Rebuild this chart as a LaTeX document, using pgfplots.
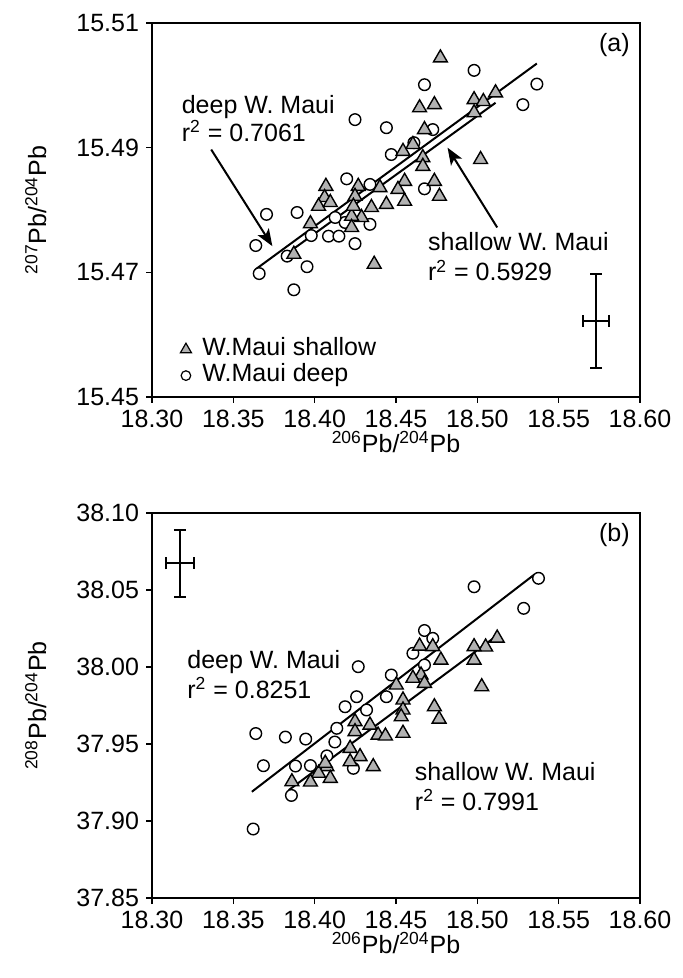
\documentclass[border=0pt]{standalone}
\usepackage{pgfplots}
\pgfplotsset{compat=1.18}
\usepackage{fontspec}
\setmainfont{Liberation Sans}
\usetikzlibrary{arrows.meta}

\pgfplotstableread{
x y
18.4248 15.4945
18.4441 15.4932
18.4726 15.4929
18.4610 15.4908
18.4471 15.4889
18.4197 15.4850
18.4340 15.4841
18.4675 15.4834
18.3892 15.4796
18.3704 15.4793
18.4187 15.4780
18.4085 15.4758
18.4149 15.4758
18.4248 15.4746
18.4340 15.4777
18.3979 15.4759
18.3638 15.4743
18.3831 15.4726
18.3953 15.4709
18.3659 15.4698
18.3872 15.4672
18.4980 15.5024
18.4675 15.5001
18.5366 15.5002
18.5280 15.4969
18.4126 15.4788
}\deepA

\pgfplotstableread{
x y
18.4773 15.5044
18.4980 15.4977
18.5037 15.4974
18.5112 15.4988
18.4980 15.4956
18.4645 15.4964
18.4736 15.4969
18.4675 15.4929
18.4543 15.4894
18.4604 15.4905
18.4665 15.4884
18.4665 15.4870
18.5020 15.4881
18.4736 15.4846
18.4767 15.4822
18.4553 15.4846
18.4512 15.4833
18.4553 15.4814
18.4441 15.4809
18.4401 15.4836
18.4268 15.4838
18.4069 15.4838
18.4061 15.4820
18.4024 15.4806
18.4096 15.4812
18.4248 15.4822
18.4349 15.4804
18.4288 15.4788
18.4227 15.4790
18.4227 15.4772
18.3974 15.4778
18.3872 15.4729
18.4366 15.4713
18.4238 15.4806
}\shallowA

\pgfplotstableread{
x y
18.5376 38.0576
18.4980 38.0521
18.5285 38.0381
18.4675 38.0237
18.4726 38.0186
18.4604 38.0089
18.4675 38.0013
18.4268 38.0002
18.4471 37.9948
18.4441 37.9807
18.4258 37.9807
18.4187 37.9742
18.4319 37.9721
18.4136 37.9602
18.3638 37.9568
18.3820 37.9545
18.3945 37.9532
18.4124 37.9513
18.4075 37.9423
18.3685 37.9359
18.3882 37.9357
18.3974 37.9360
18.4238 37.9342
18.3857 37.9166
18.3622 37.8948
}\deepB

\pgfplotstableread{
x y
18.5122 38.0188
18.5051 38.0130
18.4980 38.0132
18.4980 38.0045
18.5027 37.9872
18.4645 38.0136
18.4726 38.0132
18.4776 38.0045
18.4654 37.9948
18.4604 37.9927
18.4675 37.9894
18.4502 37.9883
18.4543 37.9786
18.4543 37.9721
18.4532 37.9677
18.4543 37.9570
18.4736 37.9742
18.4765 37.9662
18.4248 37.9645
18.4340 37.9623
18.4390 37.9558
18.4435 37.9552
18.4248 37.9580
18.4218 37.9472
18.4279 37.9418
18.4218 37.9385
18.4360 37.9353
18.4075 37.9353
18.4024 37.9310
18.4096 37.9277
18.3974 37.9253
18.3860 37.9255
18.4065 37.9375
}\shallowB

\pgfplotsset{
  panel/.style={
    scale only axis, width=244pt,
    xmin=18.30, xmax=18.60,
    xtick={18.30,18.35,18.40,18.45,18.50,18.55,18.60},
    tick pos=left, tick align=outside,
    major tick length=3pt,
    every tick/.style={black, line width=0.8pt},
    axis line style={line width=1pt},
    scaled ticks=false,
    ticklabel style={font=\fontsize{12.5}{15}\selectfont},
    xticklabel style={/pgf/number format/.cd, fixed, fixed zerofill, precision=2, assume math mode=true},
    yticklabel style={/pgf/number format/.cd, fixed, fixed zerofill, precision=2, assume math mode=true},
    label style={font=\fontsize{12.5}{15}\selectfont},
    xlabel={\textsuperscript{206}Pb/\textsuperscript{204}Pb},
    xlabel style={at={(axis description cs:0.5,0)}, anchor=north, inner sep=0pt, yshift=-17pt},
    ylabel style={at={(axis description cs:-0.238,0.5)}, anchor=center, rotate=0},
    clip=false,
  },
  deepmark/.style={only marks, mark=*, mark size=2.9pt, mark options={fill=white, draw=black, line width=0.7pt}},
  shallowmark/.style={only marks, mark=triangle*, mark size=4pt, mark options={fill=gray!60, draw=black, line width=0.7pt}},
}
\tikzset{txt/.style={font=\fontsize{12.5}{15}\selectfont, align=left, anchor=north west, inner sep=0pt}}

\begin{document}
\begin{tikzpicture}
\useasboundingbox (-76pt,-290.5pt) rectangle (265.5pt,198.5pt);

% ---------------- panel (a)
\begin{axis}[panel, at={(0,0)}, anchor=south west, height=187pt,
  ymin=15.45, ymax=15.51,
  ytick={15.45,15.47,15.49,15.51},
  ylabel={\textsuperscript{207}Pb/\textsuperscript{204}Pb},
  legend style={draw=none, fill=none, at={(axis description cs:0,0)}, anchor=south west,
    xshift=14pt, yshift=4pt, inner sep=0pt, row sep=0pt, column sep=5pt,
    nodes={font=\fontsize{12.5}{15}\selectfont, inner sep=0.5pt, text height=9pt, text depth=3pt, anchor=west}},
  legend cell align=left,
  legend image code/.code={\draw[#1] plot coordinates {(0.15cm,0cm)};},
]
\addlegendimage{only marks, mark=triangle*, mark size=3.2pt, mark options={fill=gray!60, draw=black, line width=0.6pt}}
\addlegendimage{only marks, mark=*, mark size=2.4pt, mark options={fill=white, draw=black, line width=0.6pt}}
\legend{W.Maui shallow, W.Maui deep}

\addplot[deepmark, forget plot] table {\deepA};
\addplot[shallowmark, forget plot] table {\shallowA};
\addplot[black, line width=1pt, forget plot] coordinates {(18.3638,15.4705) (18.5366,15.5035)};
\addplot[black, line width=1pt, forget plot] coordinates {(18.3872,15.4738) (18.5112,15.4972)};

\addplot[forget plot, draw=black, line width=1pt, mark=none,
  error bars/.cd, x dir=both, x explicit, y dir=both, y explicit,
  error bar style={line width=1pt, black},
  error mark options={rotate=90, mark size=3pt, line width=1pt, black}]
  coordinates {(18.573,15.4622) +- (0.0082,0.0075)};

\draw[line width=1pt, -{Stealth[length=8.5pt, width=6.5pt, inset=2pt]}] (axis cs:18.3364,15.4897) -- (axis cs:18.3740,15.4742);
\draw[line width=1pt, -{Stealth[length=8.5pt, width=6.5pt, inset=2pt]}] (axis cs:18.5122,15.4772) -- (axis cs:18.4817,15.4900);

\node[txt] at (axis cs:18.3181,15.4985) {deep W. Maui\\[-1pt] r\textsuperscript{2} = 0.7061};
\node[txt] at (axis cs:18.4695,15.4764) {shallow W. Maui\\ r\textsuperscript{2} = 0.5929};
\node[font=\fontsize{12.5}{15}\selectfont, anchor=north east, inner sep=0pt] at (rel axis cs:1,1) [xshift=-5pt, yshift=-5pt] {(a)};
\end{axis}

% ---------------- panel (b)
\begin{axis}[panel, at={(0,-250.5pt)}, anchor=south west, height=192.5pt,
  ymin=37.85, ymax=38.10,
  ytick={37.85,37.90,37.95,38.00,38.05,38.10},
  ylabel={\textsuperscript{208}Pb/\textsuperscript{204}Pb},
]
\addplot[deepmark] table {\deepB};
\addplot[shallowmark] table {\shallowB};
\addplot[black, line width=1pt] coordinates {(18.3614,37.9190) (18.5350,38.0600)};
\addplot[black, line width=1pt] coordinates {(18.3841,37.9201) (18.5112,38.0197)};

\addplot[draw=black, line width=1pt, mark=none,
  error bars/.cd, x dir=both, x explicit, y dir=both, y explicit,
  error bar style={line width=1pt, black},
  error mark options={rotate=90, mark size=3pt, line width=1pt, black}]
  coordinates {(18.3171,38.0673) +- (0.0087,0.0216)};

\node[txt] at (axis cs:18.3215,38.0110) {deep W. Maui\\ r\textsuperscript{2} = 0.8251};
\node[txt] at (axis cs:18.4614,37.9385) {shallow W. Maui\\ r\textsuperscript{2} = 0.7991};
\node[font=\fontsize{12.5}{15}\selectfont, anchor=north east, inner sep=0pt] at (rel axis cs:1,1) [xshift=-5pt, yshift=-5pt] {(b)};
\end{axis}
\end{tikzpicture}
\end{document}
